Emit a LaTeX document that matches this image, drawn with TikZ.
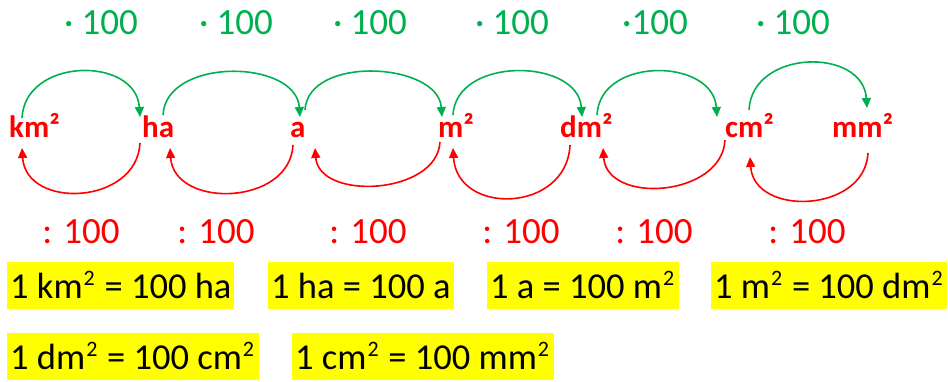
\documentclass[tikz,border=0pt]{standalone}
\usepackage{fontspec}
\setmainfont{Carlito}
\usetikzlibrary{arrows.meta}
\definecolor{ggreen}{HTML}{00B050}
\definecolor{rred}{HTML}{FF0000}
\definecolor{hyellow}{HTML}{FFFF00}
\newcommand\sqtwo{\kern1pt\raisebox{13pt}{\fontsize{22}{24}\selectfont 2}\kern1.5pt}
\begin{document}
\begin{tikzpicture}[x=1pt,y=-1pt,
 unit/.style={anchor=base west, inner sep=0pt, text=rred, font=\fontsize{31}{36}\selectfont\bfseries},
 mul/.style={anchor=base, inner sep=0pt, text=ggreen, font=\fontsize{37}{44}\selectfont},
 dv/.style={anchor=base, inner sep=0pt, text=rred, font=\fontsize{37}{44}\selectfont},
 eq/.style={anchor=base west, fill=hyellow, inner xsep=3pt, inner ysep=0pt, text height=36pt, text depth=11pt, font=\fontsize{36.5}{43}\selectfont},
 garc/.style={draw=ggreen, line width=1.6pt, -{Triangle[length=10pt,width=9pt]}},
 rarc/.style={draw=rred, line width=1.6pt, -{Triangle[length=10pt,width=9pt]}}]
\useasboundingbox (0,0) rectangle (948,381);
% units
\node[unit] (km) at (9,137) {km²};
\node[unit] (ha) at (142,137) {ha};
\node[unit] (a) at (290,137) {a};
\node[unit] (m) at (438,137) {m²};
\node[unit] (dm) at (560,137) {dm²};
\node[unit] (cm) at (725,137) {cm²};
\node[unit] (mm) at (832,137) {mm²};
% multiply labels
\node[mul] (g1) at (101,34) {· 100};
\node[mul] (g2) at (236,34) {· 100};
\node[mul] (g3) at (370,34) {· 100};
\node[mul] (g4) at (512,34) {· 100};
\node[mul] (g5) at (655,34) {·100};
\node[mul] (g6) at (793,34) {· 100};
% divide labels
\node[dv] (r1) at (81,243) {: 100};
\node[dv] (r2) at (216,243) {: 100};
\node[dv] (r3) at (368,243) {: 100};
\node[dv] (r4) at (521,243) {: 100};
\node[dv] (r5) at (654,243) {: 100};
\node[dv] (r6) at (807,243) {: 100};
% green arcs
\draw[garc] ([shift={(13,-19)}]km.base west) .. controls +(3,-61) and +(-4,-61) .. ([shift={(-2,-20)}]ha.base west);
\draw[garc] ([shift={(21,-22)}]ha.base west) .. controls +(3,-58) and +(-4,-58) .. ([shift={(10,-20)}]a.base west);
\draw[garc] ([shift={(15,-27)}]a.base west) .. controls +(3,-55) and +(-4,-55) .. ([shift={(4,-20)}]m.base west);
\draw[garc] ([shift={(15,-22)}]m.base west) .. controls +(3,-59) and +(-4,-59) .. ([shift={(22,-20)}]dm.base west);
\draw[garc] ([shift={(37,-22)}]dm.base west) .. controls +(3,-59) and +(-4,-59) .. ([shift={(-8,-20)}]cm.base west);
\draw[garc] ([shift={(24,-27)}]cm.base west) .. controls +(3,-61) and +(-4,-61) .. ([shift={(35,-29)}]mm.base west);
% red arcs
\draw[rarc] ([shift={(-2,6)}]ha.base west) .. controls +(-3,62) and +(4,62) .. ([shift={(13,11)}]km.base west);
\draw[rarc] ([shift={(3,8)}]a.base west) .. controls +(-3,61) and +(4,61) .. ([shift={(28,11)}]ha.base west);
\draw[rarc] ([shift={(2,5)}]m.base west) .. controls +(-3,53) and +(4,53) .. ([shift={(25,11)}]a.base west);
\draw[rarc] ([shift={(10,8)}]dm.base west) .. controls +(-3,68) and +(4,68) .. ([shift={(15,11)}]m.base west);
\draw[rarc] ([shift={(0,3)}]cm.base west) .. controls +(-3,57) and +(4,57) .. ([shift={(43,11)}]dm.base west);
\draw[rarc] ([shift={(36,16)}]mm.base west) .. controls +(-3,60) and +(4,60) .. ([shift={(25,20)}]cm.base west);
% equations
\node[eq] (e1) at (7,298) {1 km\sqtwo{} = 100 ha};
\node[eq] (e2) at (268,298) {1 ha = 100 a};
\node[eq] (e3) at (487,298) {1 a = 100 m\sqtwo};
\node[eq] (e4) at (711,298) {1 m\sqtwo{} = 100 dm\sqtwo};
\node[eq] (e5) at (7,369) {1 dm\sqtwo{} = 100 cm\sqtwo};
\node[eq] (e6) at (292,369) {1 cm\sqtwo{} = 100 mm\sqtwo};
\end{tikzpicture}
\end{document}
